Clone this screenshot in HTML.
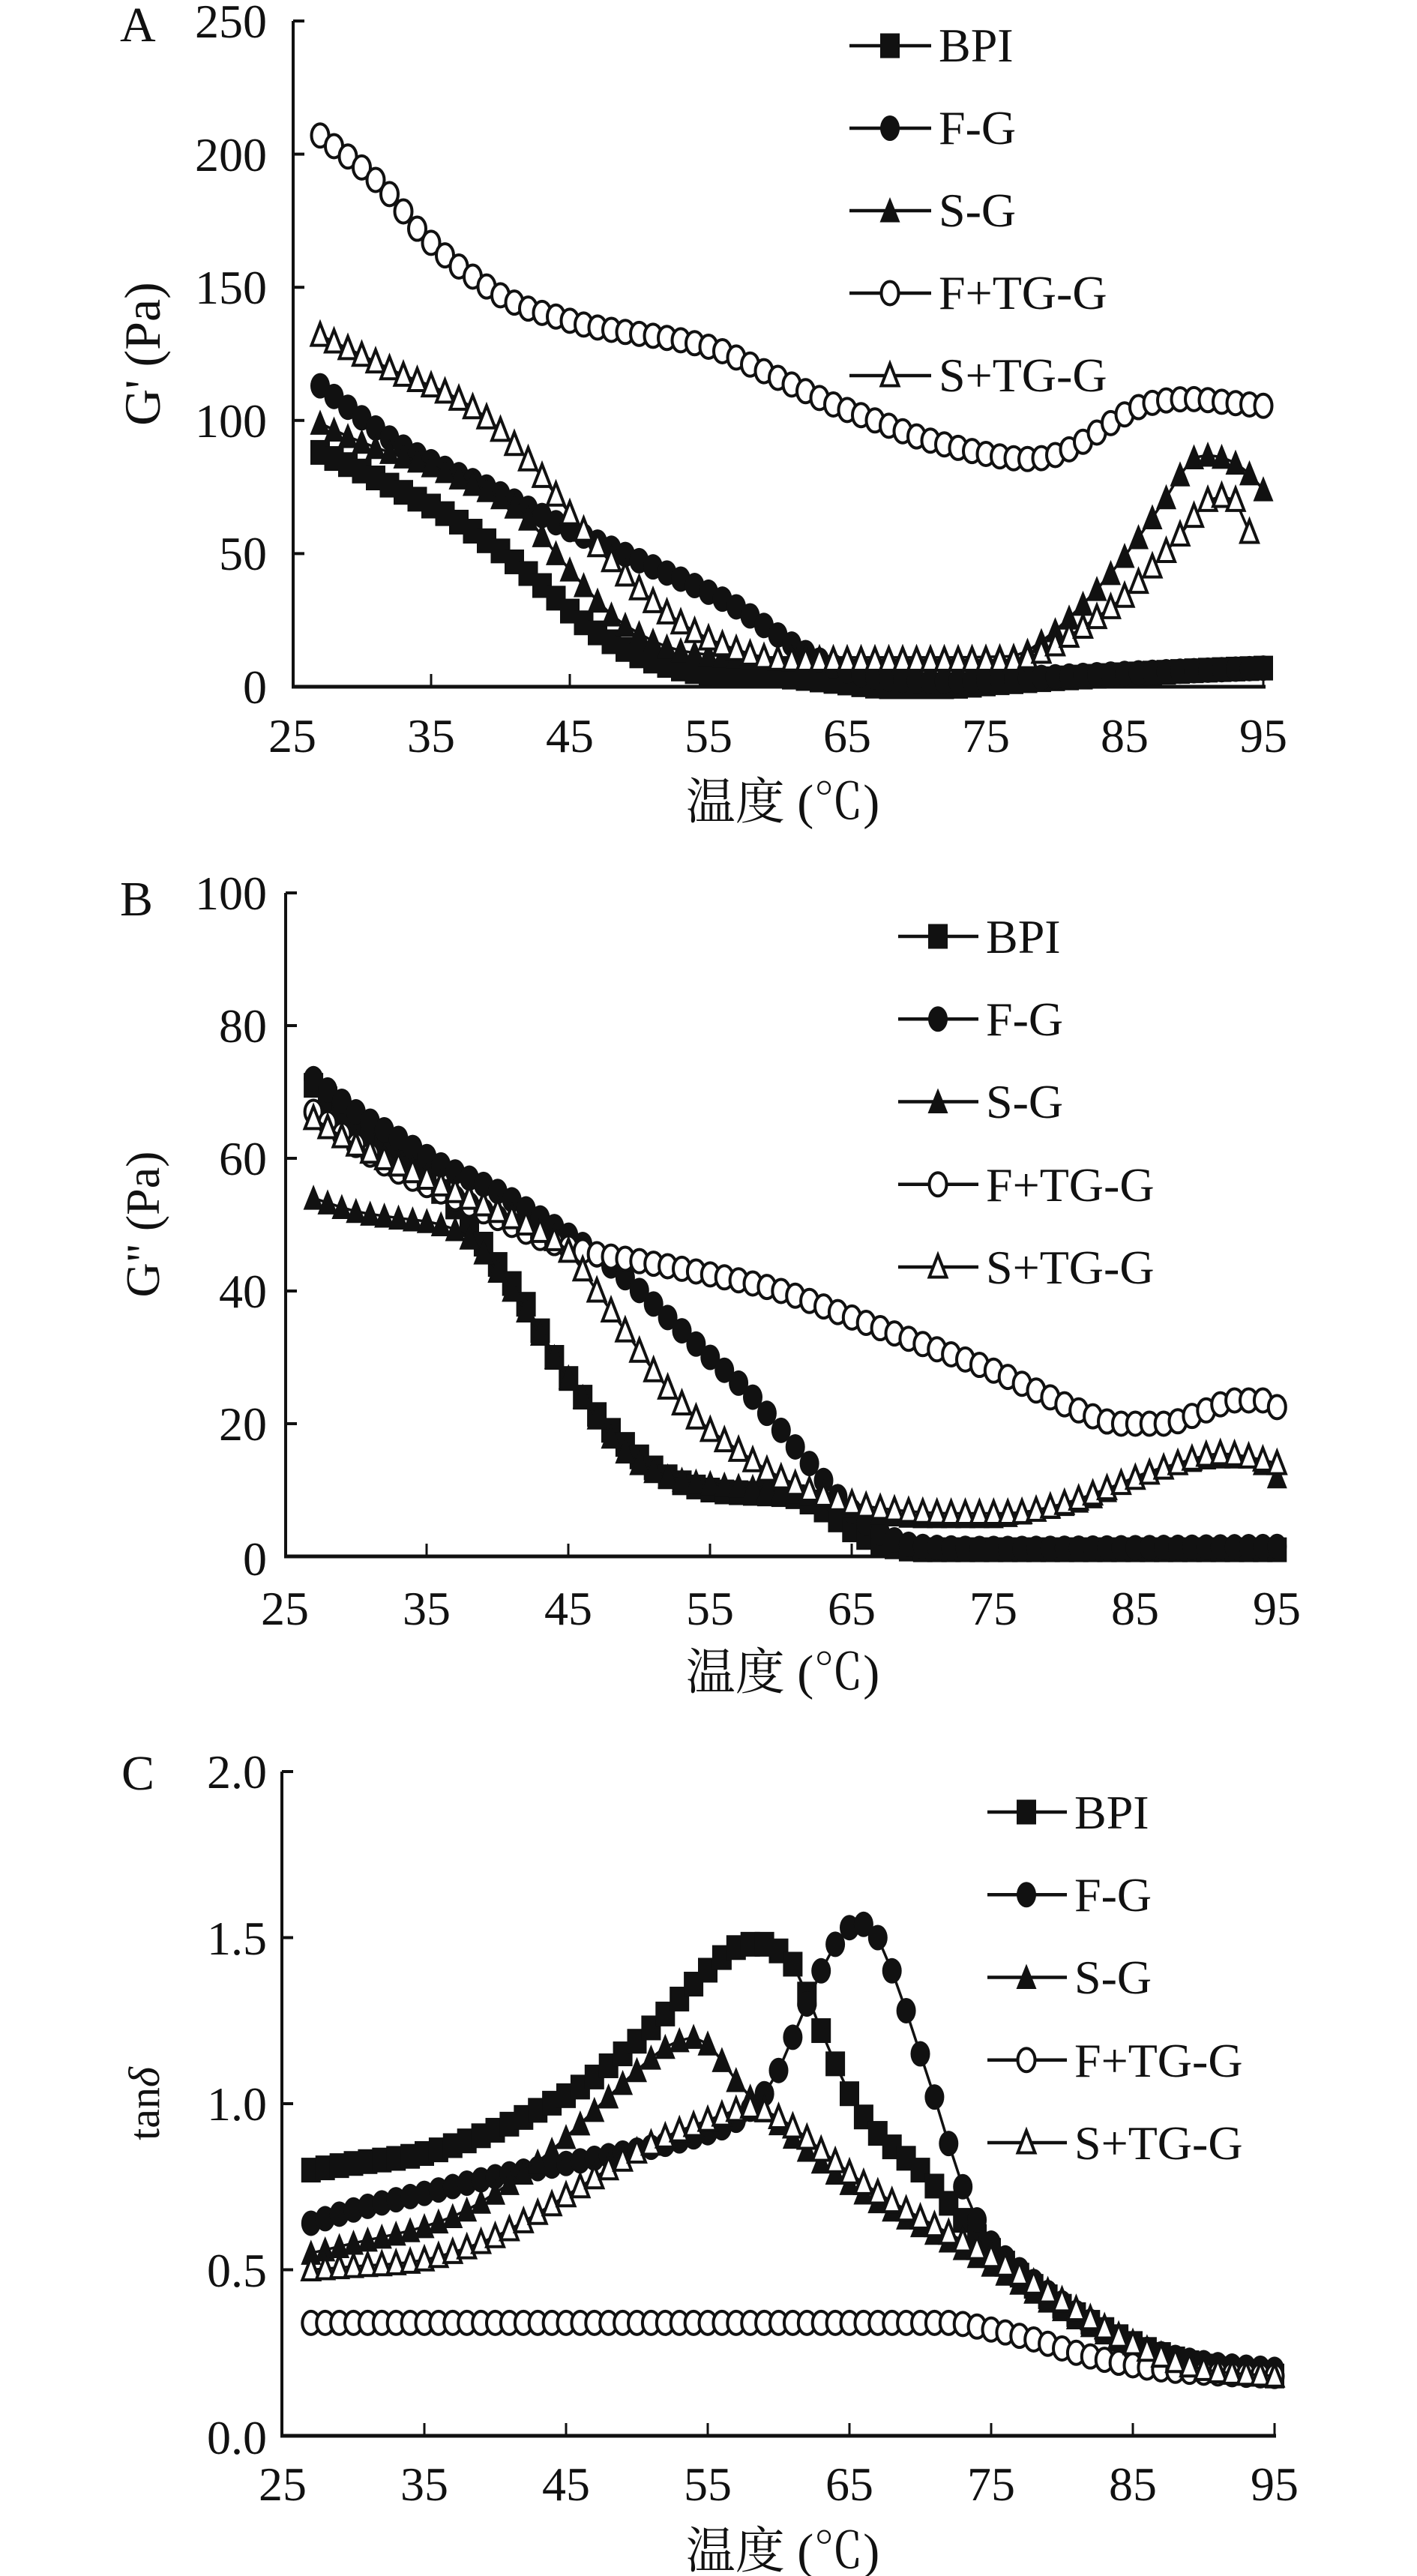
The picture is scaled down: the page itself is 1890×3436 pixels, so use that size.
<!DOCTYPE html>
<html><head><meta charset="utf-8">
<style>
html,body{margin:0;padding:0;background:#fff;}
svg{display:block;}
text{font-family:"Liberation Serif","Noto Serif CJK SC",serif;fill:#111;}
</style></head><body>
<svg id="s" width="1890" height="3436" viewBox="0 0 1890 3436" xmlns="http://www.w3.org/2000/svg">
<rect x="0" y="0" width="1890" height="3436" fill="#fff"/>
<g id="axes" stroke="#111" fill="none">
  <!-- Panel A -->
  <line x1="391" y1="28" x2="391" y2="918" stroke-width="4"/>
  <line x1="389" y1="916" x2="1688" y2="916" stroke-width="5"/>
  <g stroke-width="4">
    <line x1="391" y1="28" x2="406" y2="28"/><line x1="391" y1="205.6" x2="406" y2="205.6"/>
    <line x1="391" y1="383.2" x2="406" y2="383.2"/><line x1="391" y1="560.8" x2="406" y2="560.8"/>
    <line x1="391" y1="738.4" x2="406" y2="738.4"/>
  </g>
  <g stroke-width="3">
    <line x1="575" y1="899" x2="575" y2="916"/><line x1="760" y1="899" x2="760" y2="916"/>
    <line x1="945" y1="899" x2="945" y2="916"/><line x1="1130" y1="899" x2="1130" y2="916"/>
    <line x1="1315" y1="899" x2="1315" y2="916"/><line x1="1500" y1="899" x2="1500" y2="916"/>
    <line x1="1685" y1="899" x2="1685" y2="916"/>
  </g>
  <!-- Panel B -->
  <line x1="381" y1="1191" x2="381" y2="2078" stroke-width="4"/>
  <line x1="379" y1="2076" x2="1705" y2="2076" stroke-width="5"/>
  <g stroke-width="4">
    <line x1="381" y1="1191" x2="396" y2="1191"/><line x1="381" y1="1368" x2="396" y2="1368"/>
    <line x1="381" y1="1545" x2="396" y2="1545"/><line x1="381" y1="1722" x2="396" y2="1722"/>
    <line x1="381" y1="1899" x2="396" y2="1899"/>
  </g>
  <g stroke-width="3">
    <line x1="569" y1="2059" x2="569" y2="2076"/><line x1="758" y1="2059" x2="758" y2="2076"/>
    <line x1="947" y1="2059" x2="947" y2="2076"/><line x1="1136" y1="2059" x2="1136" y2="2076"/>
    <line x1="1325" y1="2059" x2="1325" y2="2076"/><line x1="1514" y1="2059" x2="1514" y2="2076"/>
    <line x1="1703" y1="2059" x2="1703" y2="2076"/>
  </g>
  <!-- Panel C -->
  <line x1="376" y1="2363" x2="376" y2="3251" stroke-width="4"/>
  <line x1="374" y1="3249" x2="1702" y2="3249" stroke-width="5"/>
  <g stroke-width="4">
    <line x1="376" y1="2363" x2="391" y2="2363"/><line x1="376" y1="2584.5" x2="391" y2="2584.5"/>
    <line x1="376" y1="2806" x2="391" y2="2806"/><line x1="376" y1="3027.5" x2="391" y2="3027.5"/>
  </g>
  <g stroke-width="3">
    <line x1="566" y1="3232" x2="566" y2="3249"/><line x1="755" y1="3232" x2="755" y2="3249"/>
    <line x1="944" y1="3232" x2="944" y2="3249"/><line x1="1133" y1="3232" x2="1133" y2="3249"/>
    <line x1="1322" y1="3232" x2="1322" y2="3249"/><line x1="1511" y1="3232" x2="1511" y2="3249"/>
    <line x1="1700" y1="3232" x2="1700" y2="3249"/>
  </g>
</g>

<g id="data"></g>
<g id="legend"></g>

<g font-size="64">
  <!-- Panel A text -->
  <text x="160" y="55" font-size="66">A</text>
  <g text-anchor="end">
    <text x="356" y="50">250</text><text x="356" y="228">200</text><text x="356" y="405">150</text>
    <text x="356" y="583">100</text><text x="356" y="760">50</text><text x="356" y="938">0</text>
  </g>
  <g text-anchor="middle">
    <text x="390" y="1003">25</text><text x="575" y="1003">35</text><text x="760" y="1003">45</text>
    <text x="945" y="1003">55</text><text x="1130" y="1003">65</text><text x="1315" y="1003">75</text>
    <text x="1500" y="1003">85</text><text x="1685" y="1003">95</text>
  </g>
  <text x="1044" y="1092" text-anchor="middle" font-size="66">温度 (℃)</text>
  <text transform="translate(213,472) rotate(-90)" text-anchor="middle" font-size="68">G' (Pa)</text>
  <text x="1252" y="82">BPI</text><text x="1252" y="192">F-G</text><text x="1252" y="302">S-G</text>
  <text x="1252" y="412">F+TG-G</text><text x="1252" y="522">S+TG-G</text>

  <!-- Panel B text -->
  <text x="160" y="1221" font-size="66">B</text>
  <g text-anchor="end">
    <text x="356" y="1213">100</text><text x="356" y="1390">80</text><text x="356" y="1567">60</text>
    <text x="356" y="1744">40</text><text x="356" y="1921">20</text><text x="356" y="2101">0</text>
  </g>
  <g text-anchor="middle">
    <text x="380" y="2167">25</text><text x="569" y="2167">35</text><text x="758" y="2167">45</text>
    <text x="947" y="2167">55</text><text x="1136" y="2167">65</text><text x="1325" y="2167">75</text>
    <text x="1514" y="2167">85</text><text x="1703" y="2167">95</text>
  </g>
  <text x="1044" y="2253" text-anchor="middle" font-size="66">温度 (℃)</text>
  <text transform="translate(212,1633) rotate(-90)" text-anchor="middle">G" (Pa)</text>
  <text x="1315" y="1271">BPI</text><text x="1315" y="1381">F-G</text><text x="1315" y="1491">S-G</text>
  <text x="1315" y="1602">F+TG-G</text><text x="1315" y="1712">S+TG-G</text>

  <!-- Panel C text -->
  <text x="162" y="2387" font-size="66">C</text>
  <g text-anchor="end">
    <text x="356" y="2385">2.0</text><text x="356" y="2607">1.5</text><text x="356" y="2828">1.0</text>
    <text x="356" y="3050">0.5</text><text x="356" y="3273">0.0</text>
  </g>
  <g text-anchor="middle">
    <text x="377" y="3335">25</text><text x="566" y="3335">35</text><text x="755" y="3335">45</text>
    <text x="944" y="3335">55</text><text x="1133" y="3335">65</text><text x="1322" y="3335">75</text>
    <text x="1511" y="3335">85</text><text x="1700" y="3335">95</text>
  </g>
  <text x="1044" y="3425" text-anchor="middle" font-size="66">温度 (℃)</text>
  <text transform="translate(212,2806) rotate(-90)" text-anchor="middle" font-size="58">tan<tspan font-style="italic">δ</tspan></text>
  <text x="1433" y="2439">BPI</text><text x="1433" y="2549">F-G</text><text x="1433" y="2659">S-G</text>
  <text x="1433" y="2770">F+TG-G</text><text x="1433" y="2880">S+TG-G</text>
</g>
</svg>
<script>
(function(){
var NS="http://www.w3.org/2000/svg";
function el(tag,attrs,parent){var e=document.createElementNS(NS,tag);for(var k in attrs)e.setAttribute(k,attrs[k]);parent.appendChild(e);return e;}
function interp(keys){
  var n=keys.length,xs=[],ys=[],d=[],m=[],i;
  for(i=0;i<n;i++){xs.push(keys[i][0]);ys.push(keys[i][1]);}
  for(i=0;i<n-1;i++)d.push((ys[i+1]-ys[i])/(xs[i+1]-xs[i]));
  m[0]=d[0];m[n-1]=d[n-2];
  for(i=1;i<n-1;i++){m[i]=(d[i-1]*d[i]<=0)?0:(d[i-1]+d[i])/2;}
  for(i=0;i<n-1;i++){
    if(d[i]===0){m[i]=0;m[i+1]=0;continue;}
    var a=m[i]/d[i],b=m[i+1]/d[i],s=a*a+b*b;
    if(s>9){var t=3/Math.sqrt(s);m[i]=t*a*d[i];m[i+1]=t*b*d[i];}
  }
  return function(x){
    var i=0;while(i<n-2&&x>xs[i+1])i++;
    var h=xs[i+1]-xs[i],t=(x-xs[i])/h,t2=t*t,t3=t2*t;
    return (2*t3-3*t2+1)*ys[i]+(t3-2*t2+t)*h*m[i]+(-2*t3+3*t2)*ys[i+1]+(t3-t2)*h*m[i+1];
  };
}
function marker(type,x,y,g){
  if(type==="sq") el("rect",{x:x-13,y:y-16.5,width:26,height:33,fill:"#111"},g);
  else if(type==="ci") el("ellipse",{cx:x,cy:y,rx:13,ry:17,fill:"#111"},g);
  else if(type==="tr") el("polygon",{points:x+","+(y-18)+" "+(x-13.5)+","+(y+15.5)+" "+(x+13.5)+","+(y+15.5),fill:"#111"},g);
  else if(type==="oc") el("ellipse",{cx:x,cy:y,rx:11.5,ry:15.5,fill:"#fff",stroke:"#111","stroke-width":4},g);
  else if(type==="ot") el("polygon",{points:x+","+(y-16)+" "+(x-11.5)+","+(y+13.5)+" "+(x+11.5)+","+(y+13.5),fill:"#fff",stroke:"#111","stroke-width":4,"stroke-linejoin":"miter"},g);
}
var types=["sq","ci","tr","oc","ot"];
var panels=[
 {x0:390,dx:18.5,y0:916,dy:3.552,s:[
  [[27,88],[30,81],[33,73],[36,65],[40,51],[43,38],[46,24],[49,14],[52,8],[55,5],[60,4],[64,2],[68,0],[72,0],[76,1.5],[80,3],[85,4.5],[90,6],[95,7]],
  [[27,113],[28,109],[30,101],[33,90],[36,82],[39,75],[42,67],[45,59],[48,52],[51,45],[54,38],[57,30],[59,23],[61,16],[63,10],[65,6],[68,3],[72,2],[77,3],[85,5],[95,7]],
  [[27,99],[29,94],[32,88],[35,83],[38,76],[40,71],[42,63],[44,50],[46,38],[48,27],[50,20],[52,15],[55,12],[60,11],[70,11],[77,11.5],[79,17],[82,31],[85,49],[88,71],[90,86],[91,87],[93,84],[94,80],[95,74]],
  [[27,207],[28,203],[30,195],[32,185],[34,172],[36,162],[38,154],[40,147],[42,142],[44,139],[46,136],[48,134],[50,132.5],[52,131],[54,129],[56,126],[58,121],[60,116],[62,111],[64,106],[66,102],[68,98],[70,94],[72,91],[74,88.5],[76,86.5],[78,85.5],[80,87],[82,92],[84,99],[86,105],[88,107.5],[90,108],[92,107],[94,106],[95,105.5]],
  [[27,132],[29,127],[31,122],[33,117],[35,113],[37,108],[39,101],[41,91],[43,79],[45,65],[47,53],[49,42],[51,32],[53,24],[55,18],[57,14],[59,11],[62,10],[70,10],[77,10],[79,13],[81,19],[83,26],[85,34],[87,45],[89,57],[90,64],[91,70],[92,71.5],[93,70],[94,58]]
 ]},
 {x0:380.3,dx:18.9,y0:2076,dy:8.85,s:[
  [[27,71],[30,65],[33,60],[36,55],[38,50],[40,44],[42,38],[44,30],[46,24],[48,19],[50,15],[52,12],[55,10],[58,9.5],[61,9],[63,7],[65,4],[67,2],[70,1],[95,1]],
  [[27,72],[30,67],[33,63],[36,59],[40,55],[43,51],[46,47],[49,42],[52,36],[55,30],[58,24],[60,19],[62,14],[64,9],[66,5],[68,2.5],[70,1.5],[75,1.2],[95,1.5]],
  [[27,54],[30,52],[33,51],[36,50],[38,48],[40,43],[42,37],[44,30],[46,24],[48,18],[50,14],[52,12],[55,11],[60,10],[63,9],[66,7],[70,6],[75,6],[78,7],[82,9],[85,12],[88,14],[91,15],[93,15],[94,14],[95,12]],
  [[27,67],[30,62],[33,58],[36,55],[40,51],[43,48],[46,46],[50,44.5],[55,42.5],[60,40],[65,36],[70,32],[75,28],[78,25],[81,22],[84,20],[87,20],[90,22],[92,23.5],[94,23.5],[95,22.5]],
  [[27,66],[30,62],[33,59],[36,56],[40,52],[43,49],[45,46],[47,40],[49,34],[51,28],[53,23],[55,19],[57,16],[59,13],[62,10],[65,8],[68,7],[72,6.5],[76,6.5],[80,8],[84,11],[88,14],[91,15.5],[93,15],[95,14]]
 ]},
 {x0:377,dx:18.9,y0:3249,dy:443,s:[
  [[27,0.80],[30,0.82],[35,0.85],[40,0.92],[43,0.98],[46,1.05],[49,1.15],[52,1.27],[54,1.36],[56,1.44],[57,1.47],[58,1.48],[59,1.48],[60,1.46],[61,1.42],[62,1.33],[63,1.22],[64,1.12],[65,1.03],[66,0.96],[68,0.87],[70,0.80],[72,0.70],[74,0.60],[76,0.52],[78,0.45],[80,0.39],[83,0.32],[86,0.26],[90,0.21],[95,0.18]],
  [[27,0.64],[30,0.68],[35,0.73],[40,0.78],[45,0.82],[50,0.86],[54,0.90],[57,0.95],[59,1.03],[60,1.10],[61,1.20],[62,1.30],[63,1.40],[64,1.48],[65,1.53],[66,1.54],[67,1.50],[68,1.40],[69,1.28],[70,1.15],[71,1.02],[72,0.88],[73,0.75],[74,0.65],[75,0.58],[77,0.50],[80,0.40],[83,0.32],[86,0.26],[90,0.22],[95,0.20]],
  [[27,0.55],[30,0.58],[35,0.63],[38,0.68],[41,0.76],[44,0.86],[47,0.98],[50,1.10],[52,1.17],[53,1.19],[54,1.20],[55,1.18],[56,1.13],[57,1.07],[58,1.02],[60,0.94],[62,0.86],[65,0.76],[68,0.68],[71,0.61],[74,0.54],[77,0.46],[80,0.38],[83,0.31],[86,0.25],[90,0.20],[95,0.18]],
  [[27,0.34],[50,0.34],[72,0.34],[75,0.32],[78,0.29],[81,0.25],[84,0.22],[87,0.20],[90,0.19],[95,0.18]],
  [[27,0.50],[30,0.51],[35,0.53],[40,0.60],[43,0.67],[46,0.75],[49,0.83],[52,0.90],[55,0.95],[57,0.98],[58,0.99],[59,0.98],[61,0.93],[63,0.86],[66,0.76],[69,0.68],[72,0.61],[75,0.54],[78,0.46],[81,0.38],[84,0.30],[87,0.24],[90,0.20],[95,0.18]]
 ]}
];
var dg=document.getElementById("data");
panels.forEach(function(p){
  p.s.forEach(function(keys,si){
    var f=interp(keys),t0=keys[0][0],t1=keys[keys.length-1][0],pts=[],t;
    for(t=t0;t<=t1+1e-9;t+=1){pts.push([p.x0+(t-25)*p.dx,p.y0-f(t)*p.dy]);}
    var g=el("g",{},dg);
    el("polyline",{points:pts.map(function(q){return q[0].toFixed(1)+","+q[1].toFixed(1);}).join(" "),fill:"none",stroke:"#111","stroke-width":3.5,"stroke-linejoin":"round"},g);
    pts.forEach(function(q){marker(types[si],q[0],q[1],g);});
  });
});
var lg=document.getElementById("legend");
var legends=[{x1:1133,x2:1242,mx:1187,y0:61,sp:110},{x1:1198,x2:1305,mx:1251,y0:1249,sp:110.25},{x1:1317,x2:1423,mx:1369,y0:2417,sp:110.25}];
legends.forEach(function(L){
  for(var i=0;i<5;i++){
    var y=L.y0+i*L.sp;
    el("line",{x1:L.x1,y1:y,x2:L.x2,y2:y,stroke:"#111","stroke-width":4.5},lg);
    marker(types[i],L.mx,y,lg);
  }
});
})();
</script>
</body></html>
